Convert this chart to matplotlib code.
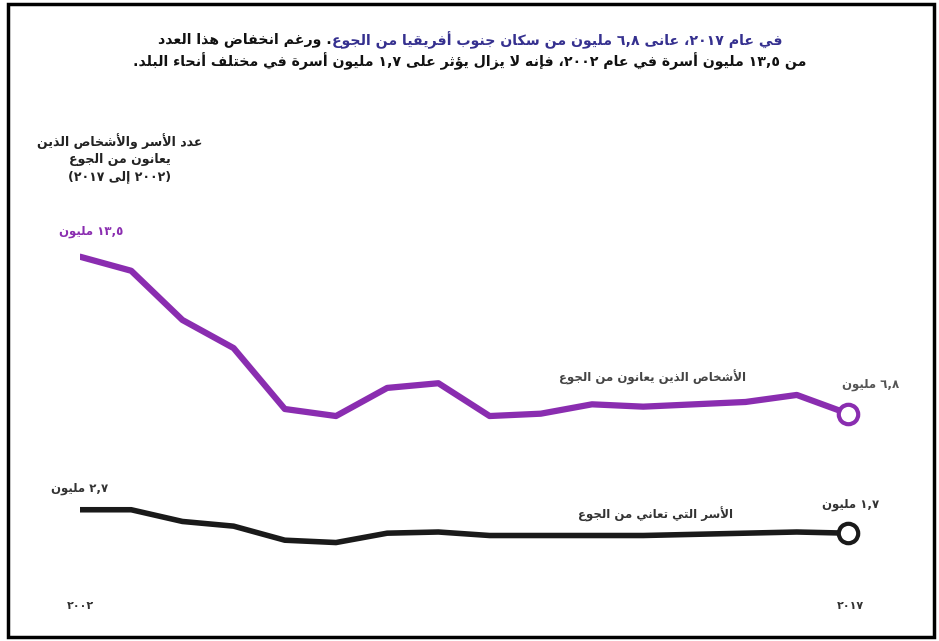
import matplotlib
matplotlib.use("Agg")
import matplotlib.pyplot as plt
from matplotlib.patches import Rectangle

# data (millions)
years = list(range(2002, 2018))
people = [13.5, 12.9, 10.8, 9.6, 7.0, 6.7, 7.9, 8.1, 6.7, 6.8, 7.2, 7.1, 7.2, 7.3, 7.6, 6.8]
households = [2.7, 2.7, 2.2, 2.0, 1.4, 1.3, 1.7, 1.75, 1.6, 1.6, 1.6, 1.6, 1.65, 1.7, 1.75, 1.7]

title_blue = "في عام ٢٠١٧، عانى ٦,٨ مليون من سكان جنوب أفريقيا من الجوع"
title_black1 = ". ورغم انخفاض هذا العدد"
title_line2 = "من ١٣,٥ مليون أسرة في عام ٢٠٠٢، فإنه لا يزال يؤثر على ١,٧ مليون أسرة في مختلف أنحاء البلد."
axis_title = ["عدد الأسر والأشخاص الذين", "يعانون من الجوع", "(٢٠٠٢ إلى ٢٠١٧)"]
people_name = "الأشخاص الذين يعانون من الجوع"
house_name = "الأسر التي تعاني من الجوع"
people_start, people_end = "١٣,٥ مليون", "٦,٨ مليون"
house_start, house_end = "٢,٧ مليون", "١,٧ مليون"
year_first, year_last = "٢٠٠٢", "٢٠١٧"

PURPLE = "#8a2db0"
BLUE = "#35308f"

# --- tiny arabic shaper (matplotlib does no shaping / bidi) ---
AR = {
    'ء': (0xFE80, 0), 'آ': (0xFE81, 1), 'أ': (0xFE83, 1), 'ؤ': (0xFE85, 1), 'إ': (0xFE87, 1),
    'ئ': (0xFE89, 2), 'ا': (0xFE8D, 1), 'ب': (0xFE8F, 2), 'ة': (0xFE93, 1), 'ت': (0xFE95, 2),
    'ث': (0xFE99, 2), 'ج': (0xFE9D, 2), 'ح': (0xFEA1, 2), 'خ': (0xFEA5, 2), 'د': (0xFEA9, 1),
    'ذ': (0xFEAB, 1), 'ر': (0xFEAD, 1), 'ز': (0xFEAF, 1), 'س': (0xFEB1, 2), 'ش': (0xFEB5, 2),
    'ص': (0xFEB9, 2), 'ض': (0xFEBD, 2), 'ط': (0xFEC1, 2), 'ظ': (0xFEC5, 2), 'ع': (0xFEC9, 2),
    'غ': (0xFECD, 2), 'ف': (0xFED1, 2), 'ق': (0xFED5, 2), 'ك': (0xFED9, 2), 'ل': (0xFEDD, 2),
    'م': (0xFEE1, 2), 'ن': (0xFEE5, 2), 'ه': (0xFEE9, 2), 'و': (0xFEED, 1), 'ى': (0xFEEF, 1),
    'ي': (0xFEF1, 2),
}
LAM_ALEF = {'آ': 0xFEF5, 'أ': 0xFEF7, 'إ': 0xFEF9, 'ا': 0xFEFB}
DIG = set('٠١٢٣٤٥٦٧٨٩0123456789')
MIRROR = {'(': ')', ')': '('}


def shape(s):
    items = []
    i = 0
    while i < len(s):
        if s[i] == 'ل' and i + 1 < len(s) and s[i + 1] in LAM_ALEF:
            items.append(('LA', LAM_ALEF[s[i + 1]]))
            i += 2
        else:
            items.append((s[i], None))
            i += 1

    def jt(it):
        if it[0] == 'LA':
            return 1
        return AR[it[0]][1] if it[0] in AR else -1

    out = []
    for k, it in enumerate(items):
        t = jt(it)
        if t < 0:
            out.append(it[0])
            continue
        prev = k > 0 and jt(items[k - 1]) == 2 and t >= 1
        nxt = t == 2 and k + 1 < len(items) and jt(items[k + 1]) >= 1
        base = it[1] if it[0] == 'LA' else AR[it[0]][0]
        if t == 0:
            out.append(chr(base))
        elif t == 1:
            out.append(chr(base + (1 if prev else 0)))
        else:
            off = 3 if (prev and nxt) else 1 if prev else 2 if nxt else 0
            out.append(chr(base + off))
    return ''.join(out)


def rtl(s):
    s = shape(s)
    tokens = []
    i = 0
    while i < len(s):
        j = i
        if s[i] in DIG:
            while j < len(s) and (s[j] in DIG or (s[j] in ',.' and j + 1 < len(s) and s[j + 1] in DIG)):
                j += 1
            tokens.append(s[i:j])
        else:
            while j < len(s) and s[j] not in DIG:
                j += 1
            tokens.append(''.join(MIRROR.get(c, c) for c in reversed(s[i:j])))
        i = j
    return ''.join(reversed(tokens))


plt.rcParams['font.family'] = ['DejaVu Sans']

W, H = 939, 641
fig = plt.figure(figsize=(W / 100, H / 100), dpi=100)

# axes placed so 2002 -> x=80px, 2017 -> x=848px, 0 -> y=573px, 14 -> y=245px
ax = fig.add_axes([80 / W, (H - 573) / H, (848 - 80) / W, (573 - 245) / H])
ax.set_xlim(2002, 2017)
ax.set_ylim(0, 14)
ax.axis("off")

ax.plot(years, people, color=PURPLE, lw=4.5, solid_joinstyle="round", solid_capstyle="round")
ax.plot(years, households, color="#1a1a1a", lw=4, solid_joinstyle="round", solid_capstyle="round")
ax.plot(years[-1], people[-1], "o", ms=14, mfc="white", mec=PURPLE, mew=3, clip_on=False)
ax.plot(years[-1], households[-1], "o", ms=14, mfc="white", mec="#1a1a1a", mew=3, clip_on=False)

lab = dict(fontsize=8.5, fontweight="bold", va="center")
ax.annotate(rtl(people_start), (years[0], people[0]), xytext=(8, 18), textcoords="offset points",
            ha="center", color=PURPLE, **lab)
ax.annotate(rtl(people_end), (years[-1], people[-1]), xytext=(16, 21), textcoords="offset points",
            ha="center", color="#555555", **lab)
ax.annotate(rtl(house_start), (years[0], households[0]), xytext=(0, 15), textcoords="offset points",
            ha="center", color="#333333", **lab)
ax.annotate(rtl(house_end), (years[-1], households[-1]), xytext=(2, 21), textcoords="offset points",
            ha="center", color="#333333", **lab)

ax.text(2015, 8.35, rtl(people_name), ha="right", color="#444444", **lab)
ax.text(2014.75, 2.5, rtl(house_name), ha="right", color="#333333", **lab)

ax.annotate(rtl(year_first), (years[0], 0), xytext=(0, -24), textcoords="offset points",
            ha="center", color="#333333", fontsize=8, fontweight="bold", va="center")
ax.annotate(rtl(year_last), (years[-1], 0), xytext=(2, -24), textcoords="offset points",
            ha="center", color="#333333", fontsize=8, fontweight="bold", va="center")

# axis title, top left
fig.text(120 / W, 1 - 158 / H, "\n".join(rtl(t) for t in axis_title), ha="center", va="center",
         fontsize=9, fontweight="bold", color="#222222", linespacing=1.4)

# title: line 1 in two colours, right-to-left
tkw = dict(fontsize=10.2, fontweight="bold", va="center")
renderer = fig.canvas.get_renderer()
t_blue = fig.text(0, 1 - 40 / H, rtl(title_blue), ha="right", color=BLUE, **tkw)
t_black = fig.text(0, 1 - 40 / H, rtl(title_black1), ha="right", color="#111111", **tkw)
wb = t_blue.get_window_extent(renderer).width
wk = t_black.get_window_extent(renderer).width
right = 470 + (wb + wk) / 2
t_blue.set_x(right / W)
t_black.set_x((right - wb) / W)
fig.text(470 / W, 1 - 61 / H, rtl(title_line2), ha="center", color="#111111", **tkw)

fig.add_artist(Rectangle((8 / W, 4 / H), 926 / W, 633 / H, transform=fig.transFigure,
                         fill=False, lw=2.5, ec="black"))

fig.savefig("out.png", dpi=100)
